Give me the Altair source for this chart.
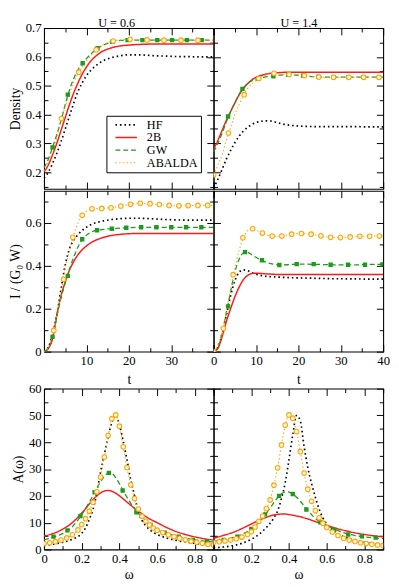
import altair as alt
import pandas as pd

FONT = "Liberation Serif"
SERIES = ["HF", "2B", "GW", "ABALDA"]
COLORS = ["#000000", "#ff1a1a", "#1e9a1e", "#ffa500"]
DASHES = [[1.6, 3.0], [1, 0], [5, 3], [1.4, 2.4]]
WIDTHS = [1.7, 1.1, 1.2, 1.1]

# ---------------- time axis data ----------------
T = [0, 1, 2, 3, 4, 5, 6, 7, 8, 9, 10, 11, 12, 13, 14, 15, 16,
     18, 20, 22, 24, 26, 28, 30, 32, 34, 36, 38, 40]

dens06_HF = [0.180, 0.200, 0.230, 0.265, 0.305, 0.350, 0.395, 0.440, 0.480, 0.510, 0.535, 0.553, 0.567, 0.578, 0.587, 0.593, 0.598,
             0.604, 0.607, 0.607, 0.606, 0.604, 0.603, 0.602, 0.601, 0.601, 0.600, 0.600, 0.600]
dens06_2B = [0.200, 0.225, 0.260, 0.300, 0.345, 0.390, 0.435, 0.475, 0.510, 0.540, 0.565, 0.585, 0.600, 0.612, 0.621, 0.627, 0.632,
             0.638, 0.641, 0.643, 0.644, 0.645, 0.645, 0.645, 0.645, 0.645, 0.645, 0.645, 0.645]
dens06_GW = [0.215, 0.245, 0.286, 0.330, 0.380, 0.435, 0.485, 0.525, 0.555, 0.576, 0.594, 0.609, 0.622, 0.633, 0.641, 0.647, 0.652,
             0.657, 0.658, 0.658, 0.658, 0.658, 0.658, 0.658, 0.658, 0.658, 0.658, 0.658, 0.658]
dens06_AB = [0.205, 0.235, 0.270, 0.320, 0.380, 0.428, 0.472, 0.512, 0.542, 0.566, 0.586, 0.603, 0.620, 0.633, 0.642, 0.649, 0.654,
             0.659, 0.661, 0.660, 0.659, 0.658, 0.658, 0.658, 0.658, 0.658, 0.658, 0.658, 0.658]
dens06_GW_mt = [2.0, 5.6, 9.1, 12.6, 16.1, 19.7, 23.2, 26.7, 30.2, 33.7, 37.2]
dens06_GW_mv = [0.286, 0.469, 0.578, 0.630, 0.652, 0.658, 0.658, 0.658, 0.658, 0.658, 0.658]
dens06_AB_mt = [4.1, 8.2, 12.3, 16.3, 20.3, 24.3, 28.3, 32.3, 36.3]
dens06_AB_mv = [0.386, 0.547, 0.625, 0.655, 0.661, 0.659, 0.658, 0.658, 0.658]

dens14_HF = [0.145, 0.175, 0.210, 0.245, 0.275, 0.302, 0.325, 0.342, 0.355, 0.365, 0.372, 0.376, 0.378, 0.378, 0.376, 0.372, 0.368,
             0.363, 0.360, 0.359, 0.358, 0.358, 0.358, 0.358, 0.358, 0.358, 0.357, 0.357, 0.357]
dens14_2B = [0.280, 0.310, 0.345, 0.380, 0.410, 0.440, 0.468, 0.490, 0.507, 0.520, 0.529, 0.535, 0.539, 0.542, 0.544, 0.545, 0.546,
             0.547, 0.547, 0.547, 0.547, 0.547, 0.547, 0.547, 0.547, 0.547, 0.547, 0.547, 0.547]
dens14_GW = [0.270, 0.300, 0.335, 0.375, 0.410, 0.440, 0.470, 0.492, 0.507, 0.517, 0.523, 0.527, 0.530, 0.532, 0.534, 0.536, 0.537,
             0.538, 0.536, 0.533, 0.531, 0.530, 0.530, 0.530, 0.530, 0.530, 0.530, 0.530, 0.530]
dens14_AB = [0.190, 0.225, 0.260, 0.310, 0.355, 0.400, 0.435, 0.465, 0.490, 0.506, 0.518, 0.528, 0.535, 0.540, 0.543, 0.543, 0.541,
             0.539, 0.537, 0.534, 0.531, 0.529, 0.529, 0.529, 0.529, 0.529, 0.529, 0.529, 0.529]
dens14_GW_mt = [3.4, 6.8, 10.5, 14.1, 17.6, 21.1, 24.7, 28.3, 31.8, 35.4, 39.0]
dens14_GW_mv = [0.393, 0.489, 0.525, 0.533, 0.538, 0.535, 0.531, 0.530, 0.530, 0.530, 0.530]
dens14_AB_mt = [0, 3.5, 7.2, 10.65, 14.25, 17.8, 21.4, 24.8, 28.3, 31.9, 35.4, 39.0]
dens14_AB_mv = [0.190, 0.336, 0.469, 0.525, 0.543, 0.539, 0.535, 0.530, 0.529, 0.529, 0.529, 0.529]

cur06_HF = [0, 0.020, 0.080, 0.170, 0.290, 0.405, 0.480, 0.520, 0.545, 0.565, 0.580, 0.592, 0.600, 0.605, 0.610, 0.613, 0.616,
            0.620, 0.622, 0.622, 0.621, 0.619, 0.617, 0.615, 0.614, 0.613, 0.613, 0.613, 0.613]
cur06_2B = [0, 0.015, 0.060, 0.170, 0.260, 0.325, 0.380, 0.420, 0.452, 0.475, 0.493, 0.507, 0.518, 0.526, 0.533, 0.538, 0.542,
            0.547, 0.550, 0.551, 0.551, 0.551, 0.551, 0.551, 0.551, 0.551, 0.551, 0.551, 0.551]
cur06_GW = [0, 0.015, 0.069, 0.160, 0.250, 0.320, 0.385, 0.440, 0.488, 0.522, 0.543, 0.556, 0.564, 0.568, 0.570, 0.572, 0.573,
            0.576, 0.578, 0.580, 0.580, 0.580, 0.580, 0.580, 0.580, 0.580, 0.580, 0.580, 0.580]
cur06_AB = [0, 0.020, 0.075, 0.170, 0.270, 0.390, 0.470, 0.545, 0.600, 0.636, 0.655, 0.664, 0.667, 0.667, 0.668, 0.670, 0.672,
            0.678, 0.686, 0.691, 0.691, 0.688, 0.684, 0.681, 0.680, 0.681, 0.682, 0.682, 0.682]
cur06_GW_mt = [2.0, 5.6, 9.0, 12.5, 16.0, 19.4, 22.9, 26.5, 30.0, 33.5, 37.1]
cur06_GW_mv = [0.069, 0.353, 0.524, 0.566, 0.573, 0.578, 0.580, 0.580, 0.580, 0.580, 0.580]
cur06_AB_mt = [2.3, 4.6, 6.8, 9.0, 11.3, 13.6, 15.8, 18.1, 20.4, 22.7, 25.0, 27.2, 29.5, 31.8, 34.0, 36.3, 38.6]
cur06_AB_mv = [0.099, 0.337, 0.533, 0.636, 0.666, 0.668, 0.671, 0.679, 0.687, 0.692, 0.690, 0.686, 0.682, 0.680, 0.681, 0.682, 0.682]

cur14_HF = [0, 0.020, 0.080, 0.170, 0.260, 0.330, 0.370, 0.381, 0.378, 0.368, 0.361, 0.356, 0.352, 0.350, 0.349, 0.348, 0.347,
            0.345, 0.344, 0.343, 0.342, 0.341, 0.340, 0.340, 0.339, 0.339, 0.338, 0.338, 0.338]
cur14_2B = [0, 0.015, 0.070, 0.140, 0.200, 0.255, 0.300, 0.335, 0.355, 0.364, 0.366, 0.365, 0.363, 0.362, 0.361, 0.360, 0.360,
            0.360, 0.360, 0.360, 0.360, 0.360, 0.360, 0.360, 0.360, 0.360, 0.360, 0.360, 0.360]
cur14_GW = [0, 0.020, 0.090, 0.180, 0.280, 0.370, 0.430, 0.460, 0.463, 0.452, 0.440, 0.429, 0.420, 0.413, 0.408, 0.405, 0.404,
            0.406, 0.408, 0.408, 0.407, 0.406, 0.405, 0.405, 0.405, 0.405, 0.406, 0.407, 0.407]
cur14_AB = [0, 0.030, 0.085, 0.190, 0.290, 0.390, 0.470, 0.531, 0.563, 0.573, 0.567, 0.556, 0.547, 0.541, 0.538, 0.538, 0.539,
            0.547, 0.551, 0.549, 0.544, 0.537, 0.532, 0.532, 0.535, 0.538, 0.538, 0.539, 0.539]
cur14_GW_mt = [3.4, 7.4, 11.4, 15.5, 19.6, 23.6, 27.6, 31.7, 35.7, 39.8]
cur14_GW_mv = [0.211, 0.464, 0.426, 0.404, 0.408, 0.408, 0.405, 0.405, 0.405, 0.407]
cur14_AB_mt = [0, 2.3, 4.6, 6.9, 9.2, 11.5, 13.8, 16.1, 18.4, 20.7, 23.0, 25.3, 27.6, 29.9, 32.2, 34.5, 36.8, 39.1]
cur14_AB_mv = [0, 0.109, 0.359, 0.531, 0.573, 0.553, 0.539, 0.539, 0.548, 0.551, 0.548, 0.540, 0.533, 0.532, 0.535, 0.538, 0.538, 0.539]

# ---------------- spectral function data ----------------
W = [0, 0.05, 0.1, 0.15, 0.2, 0.22, 0.24, 0.26, 0.28, 0.30, 0.32, 0.34, 0.36, 0.38, 0.40, 0.42, 0.44, 0.46, 0.48, 0.50,
     0.52, 0.54, 0.56, 0.58, 0.60, 0.65, 0.70, 0.75, 0.80, 0.85, 0.90]
WA = [0, 0.03, 0.06, 0.09, 0.12, 0.15, 0.18,
      0.20, 0.22, 0.24, 0.26, 0.28, 0.30, 0.32, 0.34, 0.36, 0.38, 0.40, 0.42, 0.44, 0.46, 0.48, 0.50,
      0.52, 0.54, 0.56, 0.58, 0.60,
      0.63, 0.66, 0.69, 0.72, 0.75, 0.78, 0.81, 0.84, 0.87, 0.90]

A06_HF = [1.5, 2.0, 2.7, 3.8, 6.0, 8.0, 11.2, 15.0, 21.0, 29.0, 35.5, 42.0, 47.5, 50.2, 46.5, 40.5, 33.5, 26.0, 20.2, 14.0,
          10.8, 8.8, 7.4, 6.4, 5.6, 4.3, 3.4, 2.8, 2.3, 1.9, 1.6]
A06_2B = [5.0, 6.0, 7.6, 10.0, 13.6, 15.2, 17.0, 18.6, 20.0, 21.1, 21.8, 22.0, 21.7, 21.0, 20.0, 18.9, 17.7, 16.5, 15.4, 14.3,
          13.3, 12.3, 11.4, 10.7, 10.0, 8.2, 6.7, 5.6, 4.7, 4.0, 3.5]
A06_GW = [3.6, 4.6, 6.0, 8.5, 13.0, 15.2, 17.6, 20.2, 22.8, 25.3, 27.3, 28.5, 28.3, 26.8, 24.5, 22.0, 19.5, 17.2, 15.2, 13.5,
          12.1, 10.9, 9.5, 8.4, 7.5, 6.1, 5.0, 4.2, 3.6, 3.1, 2.8]
A06_AB = [2.2, 2.5, 2.9, 3.5, 4.3, 5.5, 7.3,
          9.3, 11.5, 14.3, 17.6, 21.5, 27.0, 34.5, 42.5, 48.8, 50.2, 46.0, 38.3, 30.6, 24.1, 19.0, 15.1,
          12.4, 10.5, 9.1, 8.0, 7.2,
          6.3, 5.5, 4.8, 4.2, 3.6, 3.1, 2.7, 2.3, 1.9, 1.6]
A06_GW_mw = [0.05, 0.124, 0.193, 0.268, 0.344, 0.417, 0.49, 0.565, 0.64, 0.715, 0.79, 0.865]
A06_GW_mv = [4.8, 7.1, 12.5, 21.4, 28.6, 22.0, 13.9, 9.2, 6.3, 4.8, 3.6, 3.0]

A14_HF = [0.6, 0.9, 1.4, 2.3, 3.8, 4.6, 5.6, 6.8, 8.2, 9.8, 11.8, 14.5, 19.0, 25.0, 33.5, 42.8, 50.0, 48.0, 38.5, 30.5,
          24.5, 19.5, 15.0, 11.8, 9.6, 6.2, 4.5, 3.5, 2.7, 2.2, 1.8]
A14_2B = [4.2, 5.2, 6.3, 7.8, 9.5, 10.2, 10.9, 11.5, 12.0, 12.5, 12.9, 13.1, 13.2, 13.2, 13.0, 12.8, 12.5, 12.2, 11.8, 11.4,
          10.9, 10.4, 9.9, 9.4, 9.0, 7.9, 7.0, 6.2, 5.6, 5.1, 4.7]
A14_GW = [3.0, 3.6, 4.4, 5.6, 7.7, 8.8, 10.2, 11.8, 13.6, 15.5, 17.5, 19.3, 20.7, 21.5, 21.4, 20.7, 19.5, 18.0, 16.3, 14.6,
          13.0, 11.6, 10.5, 9.6, 8.9, 7.3, 6.0, 5.2, 4.7, 4.3, 4.0]
A14_AB = [2.7, 2.9, 3.2, 3.5, 4.0, 4.6, 5.6,
          6.6, 8.4, 10.5, 12.5, 15.3, 18.5, 24.0, 30.5, 39.0, 46.4, 50.2, 49.0, 44.0, 36.5, 28.5, 22.5,
          18.0, 14.5, 11.8, 9.8, 8.2,
          6.5, 5.2, 4.2, 3.5, 3.0, 2.5, 2.2, 1.9, 1.7, 1.5]
A14_GW_mw = [0.053, 0.126, 0.2, 0.273, 0.347, 0.42, 0.492, 0.567, 0.64, 0.714, 0.787, 0.86]
A14_GW_mv = [3.6, 4.8, 7.7, 13.1, 20.0, 20.7, 14.9, 10.1, 7.4, 5.6, 4.9, 4.4]

# tick positions
T_MAJ = [0, 10, 20, 30, 40]
T_MIN = [5, 15, 25, 35]
W_MAJ = [0, 0.2, 0.4, 0.6, 0.8]
W_MIN = [0.1, 0.3, 0.5, 0.7, 0.9]
D_MAJ = [0.2, 0.3, 0.4, 0.5, 0.6, 0.7]
D_MIN = [0.15, 0.25, 0.35, 0.45, 0.55, 0.65]
I_MAJ = [0, 0.2, 0.4, 0.6]
I_MIN = [0.1, 0.3, 0.5, 0.7]
A_MAJ = [0, 10, 20, 30, 40, 50, 60]
A_MIN = [5, 15, 25, 35, 45, 55]

PW, PH = 174, 165


def make_df(groups):
    rows = []
    for name, xs, ys in groups:
        for x, y in zip(xs, ys):
            rows.append({"series": name, "x": x, "y": y})
    return pd.DataFrame(rows)


def axis(orient, values, size, labels=False, title=None, expr=None, title_x=None, title_size=14, title_pad=3):
    kw = dict(orient=orient, values=values, tickSize=size, offset=-size, domain=False, grid=False,
              ticks=True, tickColor="black", tickWidth=1, labels=labels, title=title,
              labelFont=FONT, labelFontSize=13, labelColor="black", labelPadding=3,
              titleFont=FONT, titleFontSize=title_size, titleFontWeight="normal", titleColor="black",
              titlePadding=title_pad, format=".2~f", labelFlush=False, labelOverlap=False,
              minExtent=0)
    if expr:
        kw["labelExpr"] = expr
    if title_x is not None:
        kw["titleX"] = title_x
    return alt.Axis(**kw)


def panel(lines, gw_marks, ab_marks, xdom, ydom, xmaj, xmin, ymaj, ymin,
          xlab, ylab, xtitle=None, ytitle=None, xexpr=None, toptitle=None, toptitle_x=None,
          legend=False, xtitle_pad=3):
    ldf = make_df(lines)
    gdf = make_df([("GW",) + gw_marks])
    adf = make_df([("ABALDA",) + ab_marks])
    xs = alt.Scale(domain=xdom, nice=False, zero=False)
    ys = alt.Scale(domain=ydom, nice=False, zero=False)
    if legend:
        leg = alt.Legend(orient="none", legendX=64, legendY=90, title=None, fillColor="white",
                         strokeColor="black", padding=3, symbolType="M-2.2,0H2.2", symbolSize=100,
                         symbolOffset=11, symbolStrokeWidth=1.4, labelFont=FONT, labelFontSize=12.5,
                         labelColor="black", rowPadding=-1, labelOffset=15, cornerRadius=0,
                         labelExpr="datum.label + '\u2003'")
    else:
        leg = None
    L = alt.Chart(ldf).mark_line(clip=True, interpolate="monotone").encode(
        x=alt.X("x:Q", scale=xs, axis=axis("bottom", xmaj, 7, labels=xlab, title=xtitle, expr=xexpr,
                                            title_pad=xtitle_pad)),
        y=alt.Y("y:Q", scale=ys, axis=axis("left", ymaj, 7, labels=ylab, title=ytitle)),
        color=alt.Color("series:N", scale=alt.Scale(domain=SERIES, range=COLORS), legend=leg),
        strokeDash=alt.StrokeDash("series:N", scale=alt.Scale(domain=SERIES, range=DASHES), legend=leg),
        strokeWidth=alt.StrokeWidth("series:N", scale=alt.Scale(domain=SERIES, range=WIDTHS), legend=None),
    )
    G = alt.Chart(gdf).mark_point(shape="square", filled=True, size=20, opacity=1, clip=True,
                                  color=COLORS[2]).encode(
        x=alt.X("x:Q", axis=axis("bottom", xmin, 4)),
        y=alt.Y("y:Q", axis=axis("left", ymin, 4)),
    )
    A = alt.Chart(adf).mark_point(shape="circle", filled=False, size=22, strokeWidth=1.1, opacity=1,
                                  clip=True, color=COLORS[3], fill="#fff6e0").encode(
        x=alt.X("x:Q", axis=axis("top", xmaj, 7, title=toptitle, title_x=toptitle_x, title_size=12.5,
                                 title_pad=-2)),
        y=alt.Y("y:Q", axis=axis("right", ymaj, 7)),
    )
    D = alt.Chart(ldf).mark_line(opacity=0).encode(
        x=alt.X("x:Q", axis=axis("top", xmin, 4)),
        y=alt.Y("y:Q", axis=axis("right", ymin, 4)),
        detail="series:N",
    )
    return alt.layer(L, G, A, D).resolve_axis(x="independent", y="independent").properties(width=PW, height=PH)


RES = dict(x="independent", y="independent", color="independent",
           strokeDash="independent", strokeWidth="independent")

p11 = panel([("HF", T, dens06_HF), ("2B", T, dens06_2B), ("GW", T, dens06_GW), ("ABALDA", T, dens06_AB)],
            (dens06_GW_mt, dens06_GW_mv), (dens06_AB_mt, dens06_AB_mv),
            [0, 40], [0.142, 0.7], T_MAJ, T_MIN, D_MAJ, D_MIN, False, True,
            ytitle="Density", toptitle="U = 0.6", toptitle_x=74, legend=True)
p12 = panel([("HF", T, dens14_HF), ("2B", T, dens14_2B), ("GW", T, dens14_GW), ("ABALDA", T, dens14_AB)],
            (dens14_GW_mt, dens14_GW_mv), (dens14_AB_mt, dens14_AB_mv),
            [0, 40], [0.142, 0.7], T_MAJ, T_MIN, D_MAJ, D_MIN, False, False, toptitle="U = 1.4")
p21 = panel([("HF", T, cur06_HF), ("2B", T, cur06_2B), ("GW", T, cur06_GW), ("ABALDA", T, cur06_AB)],
            (cur06_GW_mt, cur06_GW_mv), (cur06_AB_mt, cur06_AB_mv),
            [0, 40], [0, 0.75], T_MAJ, T_MIN, I_MAJ, I_MIN, True, True,
            xtitle="t", ytitle="I / (G\u2080 W)", xtitle_pad=6,
            xexpr="datum.value == 0 || datum.value == 40 ? '' : datum.label")
p22 = panel([("HF", T, cur14_HF), ("2B", T, cur14_2B), ("GW", T, cur14_GW), ("ABALDA", T, cur14_AB)],
            (cur14_GW_mt, cur14_GW_mv), (cur14_AB_mt, cur14_AB_mv),
            [0, 40], [0, 0.75], T_MAJ, T_MIN, I_MAJ, I_MIN, True, False, xtitle="t", xtitle_pad=6)
p31 = panel([("HF", W, A06_HF), ("2B", W, A06_2B), ("GW", W, A06_GW), ("ABALDA", WA, A06_AB)],
            (A06_GW_mw, A06_GW_mv), (WA, A06_AB),
            [0, 0.9], [0, 60], W_MAJ, W_MIN, A_MAJ, A_MIN, True, True,
            xtitle="\u03c9", ytitle="A(\u03c9)")
p32 = panel([("HF", W, A14_HF), ("2B", W, A14_2B), ("GW", W, A14_GW), ("ABALDA", WA, A14_AB)],
            (A14_GW_mw, A14_GW_mv), (WA, A14_AB),
            [0, 0.9], [0, 60], W_MAJ, W_MIN, A_MAJ, A_MIN, True, False, xtitle="\u03c9")

row1 = alt.hconcat(p11, p12, spacing=0, bounds="flush").resolve_scale(**RES)
row2 = alt.hconcat(p21, p22, spacing=0, bounds="flush").resolve_scale(**RES)
row3 = alt.hconcat(p31, p32, spacing=0, bounds="flush").resolve_scale(**RES)

chart = (
    alt.vconcat(row1, row2, row3, spacing=-6)
    .resolve_scale(**RES)
    .properties(padding={"left": 0, "top": 0, "right": 0, "bottom": 0}, background="white")
    .configure_view(stroke="black", strokeWidth=1.1)
)

chart.save("out.html", embed_options={"renderer": "svg", "actions": False})
